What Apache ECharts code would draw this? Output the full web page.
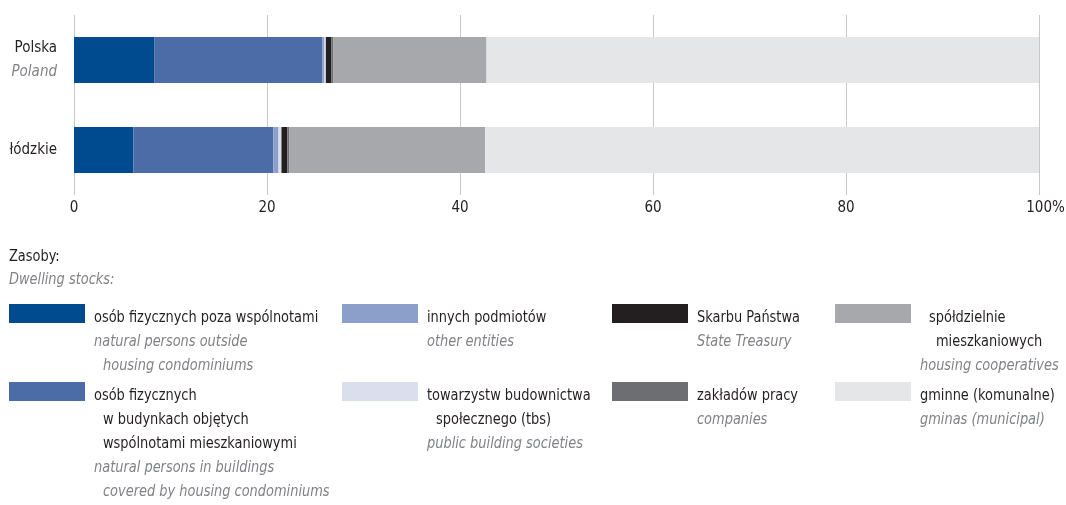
<!DOCTYPE html>
<html>
<head>
<meta charset="utf-8">
<script src="https://cdn.jsdelivr.net/npm/echarts@6/dist/echarts.min.js"></script>
<style>
  html, body { margin: 0; padding: 0; background: #fff; }
  #chart { width: 1066px; height: 505px; }
</style>
</head>
<body>
<div id="chart"></div>
<script>
// dane (%)
var regions = ['Polska', 'łódzkie']
var regionsEn = ['Poland', '']
var seriesNames = [
    'osób fizycznych poza wspólnotami',
    'osób fizycznych w budynkach objętych wspólnotami mieszkaniowymi',
    'innych podmiotów',
    'towarzystw budownictwa społecznego (tbs)',
    'Skarbu Państwa',
    'zakładów pracy',
    'spółdzielnie mieszkaniowych',
    'gminne (komunalne)'
]
var colors = ['#004a8f', '#4b6ca7', '#8c9fca', '#dadfee', '#231f20', '#6d6e71', '#a7a8ab', '#e5e6e8']
var polskaValues = [8.35, 17.4, 0.2, 0.15, 0.55, 0.2, 15.9, 57.25]
var lodzkieValues = [6.15, 14.5, 0.55, 0.3, 0.6, 0.2, 20.3, 57.4]
var xTicks = [0, 20, 40, 60, 80, 100]

var FONT = "'Liberation Sans Narrow', 'DejaVu Sans Condensed', sans-serif"
var DARK = '#231f20'
var GREY = '#808285'
var SQ = 0.9 // zwężenie tekstu (brak fontu condensed)

var chart = echarts.init(document.getElementById('chart'))

var series = seriesNames.map(function (name, i) {
    return {
        name: name,
        type: 'bar',
        stack: 'total',
        barWidth: 46,
        itemStyle: { color: colors[i] },
        data: [polskaValues[i], lodzkieValues[i]]
    }
})

// legenda: kolumny i wiersze jak w oryginale
var legendItems = [
    { s: 0, x: 9, y: 304, lines: [['osób fizycznych poza wspólnotami', 0, 0], ['natural persons outside', 0, 1], ['housing condominiums', 9, 1]] },
    { s: 1, x: 9, y: 382, lines: [['osób fizycznych', 0, 0], ['w budynkach objętych', 9, 0], ['wspólnotami mieszkaniowymi', 9, 0], ['natural persons in buildings', 0, 1], ['covered by housing condominiums', 9, 1]] },
    { s: 2, x: 342, y: 304, lines: [['innych podmiotów', 0, 0], ['other entities', 0, 1]] },
    { s: 3, x: 342, y: 382, lines: [['towarzystw budownictwa', 0, 0], ['społecznego (tbs)', 9, 0], ['public building societies', 0, 1]] },
    { s: 4, x: 612, y: 304, lines: [['Skarbu Państwa', 0, 0], ['State Treasury', 0, 1]] },
    { s: 5, x: 612, y: 382, lines: [['zakładów pracy', 0, 0], ['companies', 0, 1]] },
    { s: 6, x: 835, y: 304, lines: [['spółdzielnie', 9, 0], ['mieszkaniowych', 16, 0], ['housing cooperatives', 0, 1]] },
    { s: 7, x: 835, y: 382, lines: [['gminne (komunalne)', 0, 0], ['gminas (municipal)', 0, 1]] }
]

function txt(x, y, s, italic) {
    return {
        type: 'text',
        x: x,
        y: y,
        scaleX: SQ,
        style: {
            text: s,
            font: (italic ? 'italic ' : '') + '16px ' + FONT,
            fill: italic ? GREY : DARK,
            verticalAlign: 'top'
        }
    }
}

var graphics = [txt(9, 249, 'Zasoby:', 0), txt(9, 272, 'Dwelling stocks:', 1)]
legendItems.forEach(function (it) {
    graphics.push({
        type: 'rect',
        shape: { x: it.x, y: it.y, width: 76, height: 19 },
        style: { fill: colors[it.s] }
    })
    it.lines.forEach(function (ln, k) {
        graphics.push(txt(it.x + 85 + ln[1], it.y + 6 + k * 24, ln[0], ln[2]))
    })
})

var options = {
    backgroundColor: '#fff',
    animation: false,
    grid: { left: 74, right: 27, top: 15, height: 180, outerBoundsMode: 'none' },
    xAxis: {
        type: 'value',
        min: 0,
        max: 100,
        interval: 20,
        axisLine: { show: false },
        axisTick: { show: false },
        splitLine: { show: true, lineStyle: { color: '#c8c8c8', width: 1 } },
        axisLabel: {
            margin: 6,
            fontFamily: FONT,
            fontSize: 15,
            color: DARK,
            formatter: function (v) {
                return v === 100 ? '{p|100%}' : String(v)
            },
            rich: {
                p: { padding: [0, 0, 0, 13], fontFamily: FONT, fontSize: 15, color: DARK }
            }
        }
    },
    yAxis: {
        type: 'category',
        inverse: true,
        data: regions,
        axisLine: { show: false },
        axisTick: { show: false },
        axisLabel: {
            margin: 17,
            fontFamily: FONT,
            fontSize: 15,
            color: DARK,
            lineHeight: 24,
            formatter: function (v, i) {
                return regionsEn[i] ? v + '\n{en|' + regionsEn[i] + '}' : v
            },
            rich: {
                en: { fontFamily: FONT, fontSize: 15, fontStyle: 'italic', color: GREY, lineHeight: 24 }
            }
        }
    },
    series: series,
    graphic: graphics
}
chart.setOption(options)
</script>
</body>
</html>
